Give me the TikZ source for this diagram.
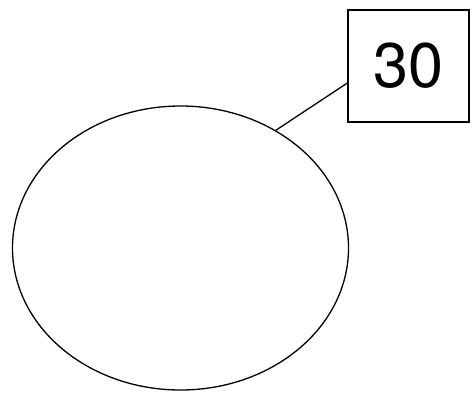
\documentclass[tikz,border=0pt]{standalone}
\usepackage{fontspec}
\setmainfont{TeX Gyre Heros}
\usetikzlibrary{calc,shapes.geometric}
\begin{document}
\begin{tikzpicture}[x=1pt,y=-1pt,
  shapeline/.style={draw=black,line width=1.3pt},
  valbox/.style={shapeline,minimum width=121pt,minimum height=112pt,inner sep=0pt,font=\fontsize{63}{63}\selectfont},
  blob/.style={shapeline,ellipse,minimum width=336pt,minimum height=284pt,inner sep=0pt}]
\useasboundingbox (0,0) rectangle (473,392);
\node[blob] (e) at (180.5,248) {};
\node[valbox] (b) at (408.5,66) {30};
\coordinate (bend) at ($(b.north west)!0.65!(b.south west)$);
\draw[shapeline] (e.51) -- (bend);
\end{tikzpicture}
\end{document}
